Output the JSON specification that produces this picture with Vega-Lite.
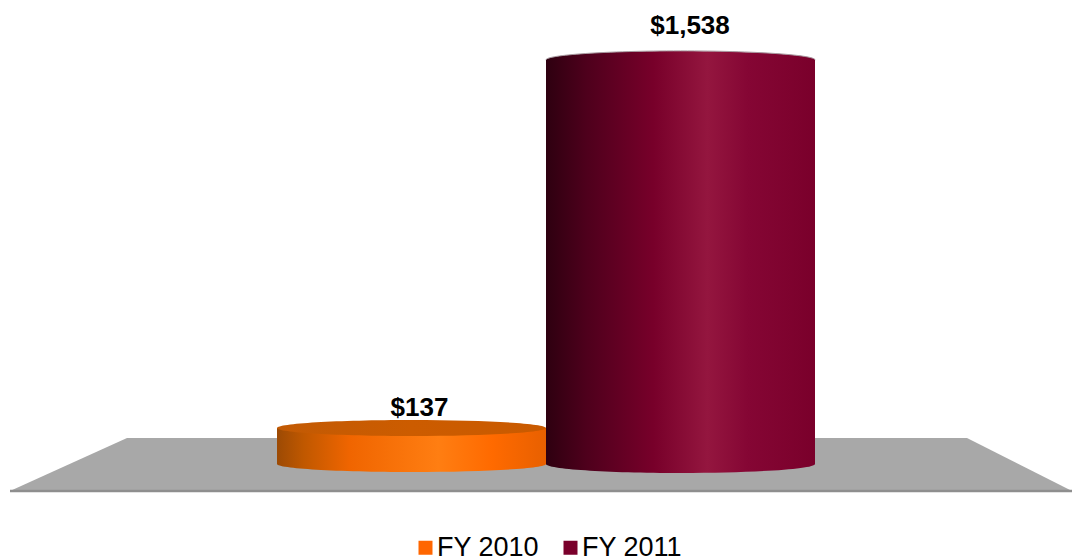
{
  "$schema": "https://vega.github.io/schema/vega-lite/v6.json",
  "width": 1072, "height": 558, "padding": 0,
  "autosize": {"type": "none"},
  "background": "white",
  "config": {"view": {"stroke": null}},
  "datasets": {
    "fy": [{"year": "FY 2010", "value": 137, "base": 0, "label": "$137"}, {"year": "FY 2011", "value": 1538, "base": 0, "label": "$1,538"}],
    "floor": [{"f": 10, "top": -103, "bottom": -103}, {"f": 127, "top": 99, "bottom": -103}, {"f": 967, "top": 99, "bottom": -103}, {"f": 1072, "top": -103, "bottom": -103}]
  },
  "resolve": {"scale": {"x": "independent"}},
  "layer": [
    {
      "data": {"name": "floor"},
      "encoding": {
        "x": {"field": "f", "type": "quantitative", "axis": null, "scale": {"domain": [0, 1072], "nice": false, "zero": false}}
      },
      "layer": [
        {
          "mark": {"type": "area", "fill": "#a8a8a8", "interpolate": "linear"},
          "encoding": {
            "y": {"field": "top", "type": "quantitative", "axis": null, "scale": {"domain": [-358, 1766], "nice": false, "zero": false}},
            "y2": {"field": "bottom"}
          }
        },
        {
          "mark": {"type": "line", "stroke": "#8e8e8e", "strokeWidth": 2.5, "interpolate": "linear"},
          "encoding": {
            "y": {"field": "bottom", "type": "quantitative", "axis": null}
          }
        }
      ]
    },
    {
      "data": {"name": "fy"},
      "encoding": {
        "x": {"field": "year", "type": "nominal", "axis": null, "sort": null, "scale": {"domain": ["FY 2010", "FY 2011"], "range": [277, 815], "paddingInner": 0, "paddingOuter": 0}}
      },
      "layer": [
        {
          "mark": {"type": "bar"},
          "encoding": {
            "y": {"field": "value", "type": "quantitative", "axis": null},
            "y2": {"field": "base"},
            "color": {"field": "year", "type": "nominal", "scale": {"domain": ["FY 2010", "FY 2011"], "range": ["#FF6600", "#7A002B"]},
              "legend": {"title": null, "orient": "none", "legendX": 412, "legendY": 534, "direction": "horizontal", "columns": 2, "symbolType": "square", "symbolSize": 196, "symbolStrokeWidth": 0, "labelFont": "Liberation Sans", "labelFontSize": 27, "labelColor": "#000000", "labelOffset": -2, "columnPadding": 17, "labelLimit": 200}}
          }
        },
        {
          "transform": [{"filter": "datum.year === 'FY 2010'"}],
          "layer": [
            {"mark": {"type": "point", "filled": true, "opacity": 1, "size": 72361, "shape": "M-1,0 A1,0.0595 0 1,1 1,0 A1,0.0595 0 1,1 -1,0 Z",
              "fill": {"gradient": "linear", "x1": 0, "x2": 1, "y1": 0, "y2": 0, "stops": [{"offset": 0, "color": "#9C4A04"}, {"offset": 0.1, "color": "#C05800"}, {"offset": 0.27, "color": "#F06500"}, {"offset": 0.6, "color": "#FF7E12"}, {"offset": 0.8, "color": "#FF6A00"}, {"offset": 1, "color": "#E86000"}]}},
              "encoding": {"y": {"field": "base", "type": "quantitative", "axis": null}}},
            {"mark": {"type": "bar",
              "fill": {"gradient": "linear", "x1": 0, "x2": 1, "y1": 0, "y2": 0, "stops": [{"offset": 0, "color": "#9C4A04"}, {"offset": 0.1, "color": "#C05800"}, {"offset": 0.27, "color": "#F06500"}, {"offset": 0.6, "color": "#FF7E12"}, {"offset": 0.8, "color": "#FF6A00"}, {"offset": 1, "color": "#E86000"}]}},
              "encoding": {"y": {"field": "value", "type": "quantitative", "axis": null}, "y2": {"field": "base"}}},
            {"mark": {"type": "point", "filled": true, "opacity": 1, "size": 72361, "shape": "M-1,0 A1,0.0595 0 1,1 1,0 A1,0.0595 0 1,1 -1,0 Z",
              "fill": {"gradient": "linear", "x1": 0, "x2": 1, "y1": 0, "y2": 0, "stops": [{"offset": 0, "color": "#C25A04"}, {"offset": 0.5, "color": "#CC5C00"}, {"offset": 1, "color": "#C95A00"}]}},
              "encoding": {"y": {"field": "value", "type": "quantitative", "axis": null}}}
          ]
        },
        {
          "transform": [{"filter": "datum.year === 'FY 2011'"}],
          "layer": [
            {"mark": {"type": "point", "filled": true, "opacity": 1, "size": 72361, "shape": "M-1,0 A1,0.067 0 1,1 1,0 A1,0.067 0 1,1 -1,0 Z",
              "fill": {"gradient": "linear", "x1": 0, "x2": 1, "y1": 0, "y2": 0, "stops": [{"offset": 0, "color": "#2E0010"}, {"offset": 0.15, "color": "#4E001C"}, {"offset": 0.4, "color": "#78002A"}, {"offset": 0.6, "color": "#94163F"}, {"offset": 0.75, "color": "#850634"}, {"offset": 1, "color": "#7A002B"}]}},
              "encoding": {"y": {"field": "base", "type": "quantitative", "axis": null}}},
            {"mark": {"type": "point", "filled": true, "opacity": 1, "size": 72361, "stroke": "#a89aa0", "strokeWidth": 1, "shape": "M-1,0 A1,0.067 0 1,1 1,0 A1,0.067 0 1,1 -1,0 Z",
              "fill": {"gradient": "linear", "x1": 0, "x2": 1, "y1": 0, "y2": 0, "stops": [{"offset": 0, "color": "#2E0010"}, {"offset": 0.15, "color": "#4E001C"}, {"offset": 0.4, "color": "#78002A"}, {"offset": 0.6, "color": "#94163F"}, {"offset": 0.75, "color": "#850634"}, {"offset": 1, "color": "#7A002B"}]}},
              "encoding": {"y": {"field": "value", "type": "quantitative", "axis": null}}},
            {"mark": {"type": "bar",
              "fill": {"gradient": "linear", "x1": 0, "x2": 1, "y1": 0, "y2": 0, "stops": [{"offset": 0, "color": "#2E0010"}, {"offset": 0.15, "color": "#4E001C"}, {"offset": 0.4, "color": "#78002A"}, {"offset": 0.6, "color": "#94163F"}, {"offset": 0.75, "color": "#850634"}, {"offset": 1, "color": "#7A002B"}]}},
              "encoding": {"y": {"field": "value", "type": "quantitative", "axis": null}, "y2": {"field": "base"}}}
          ]
        },
        {
          "transform": [{"filter": "datum.year === 'FY 2010'"}],
          "mark": {"type": "text", "font": "Liberation Sans", "fontWeight": "bold", "fontSize": 26, "color": "#000000", "dx": 8, "dy": -20, "baseline": "middle"},
          "encoding": {"y": {"field": "value", "type": "quantitative", "axis": null}, "text": {"field": "label"}}
        },
        {
          "transform": [{"filter": "datum.year === 'FY 2011'"}],
          "mark": {"type": "text", "font": "Liberation Sans", "fontWeight": "bold", "fontSize": 26, "color": "#000000", "dx": 9.5, "dy": -34, "baseline": "middle"},
          "encoding": {"y": {"field": "value", "type": "quantitative", "axis": null}, "text": {"field": "label"}}
        }
      ]
    }
  ]
}
